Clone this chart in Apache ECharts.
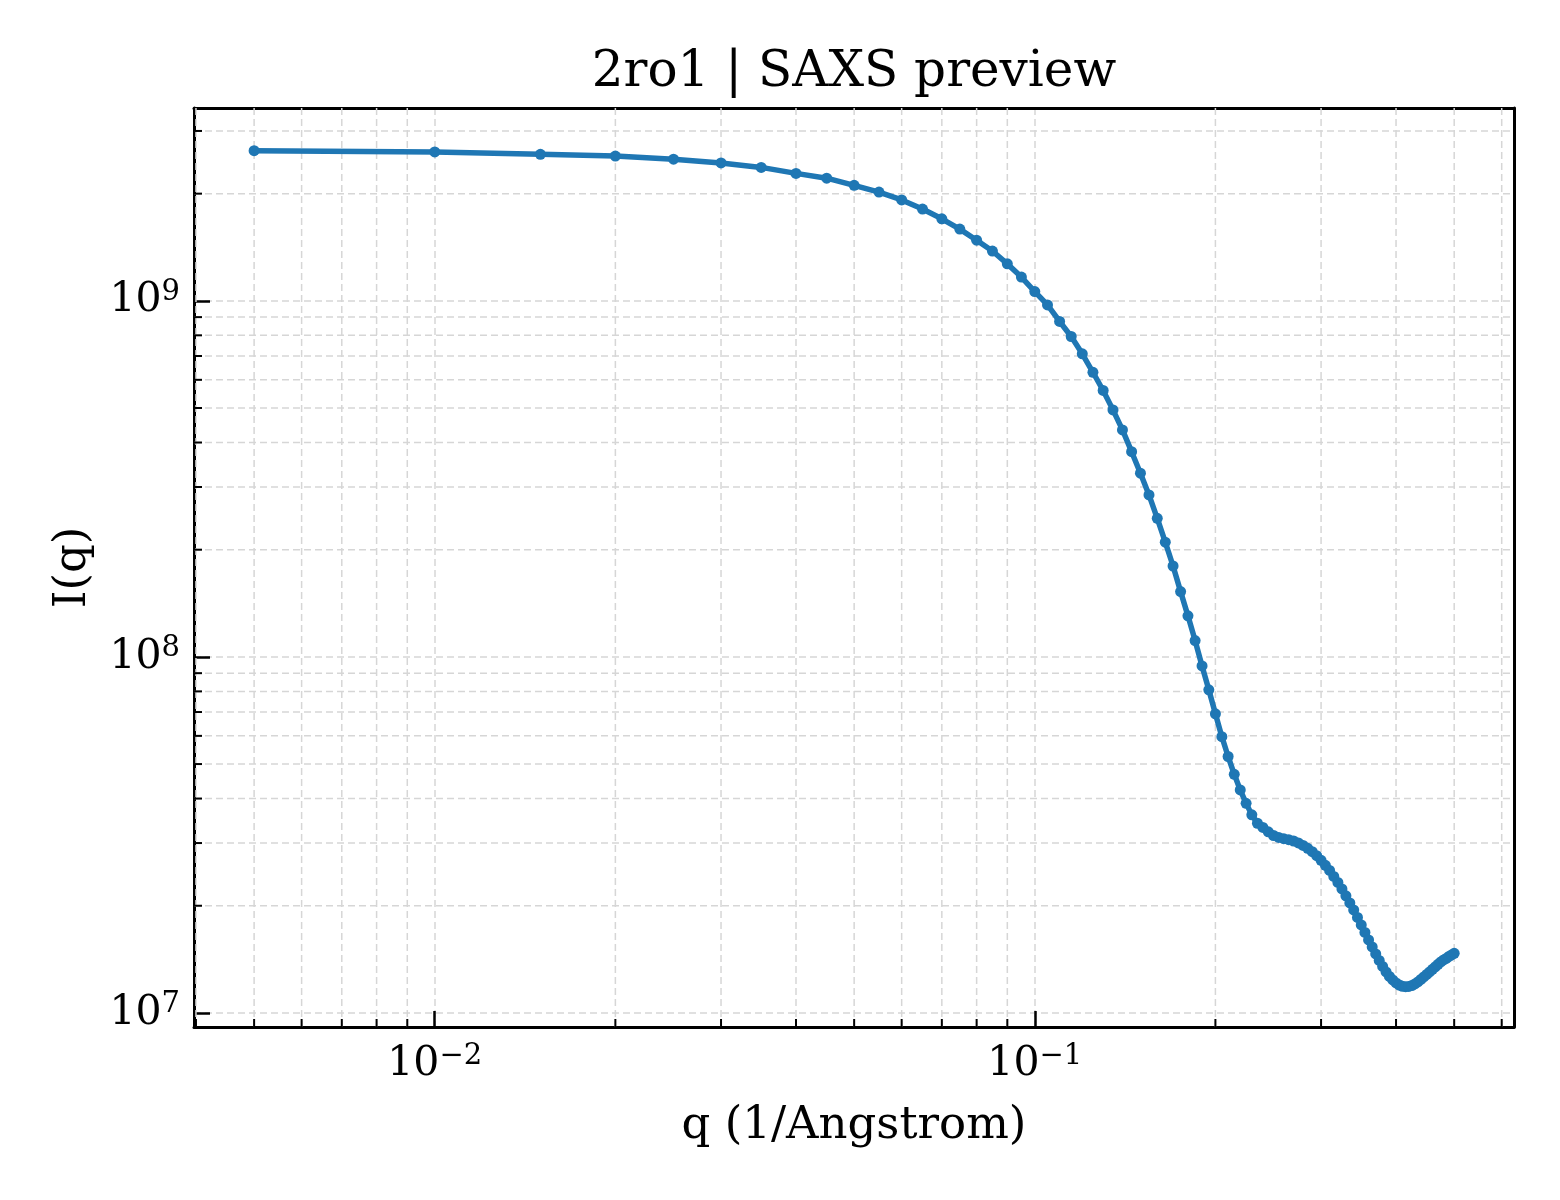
<!DOCTYPE html>
<html>
<head>
<meta charset="utf-8">
<title>2ro1 SAXS preview</title>
<script src="https://cdn.jsdelivr.net/npm/echarts@6/dist/echarts.min.js"></script>
<style>
    html, body { margin: 0; padding: 0; background: #fff; }
    #main { width: 1560px; height: 1200px; }
</style>
</head>
<body>
<div id="main"></div>
<script>
// q values (1/Angstrom)
var qValues = [
    0.005, 0.010, 0.015, 0.020, 0.025, 0.030, 0.035, 0.040, 0.045, 0.050,
    0.055, 0.060, 0.065, 0.070, 0.075, 0.080, 0.085, 0.090, 0.095, 0.100,
    0.105, 0.110, 0.115, 0.120, 0.125, 0.130, 0.135, 0.140, 0.145, 0.150,
    0.155, 0.160, 0.165, 0.170, 0.175, 0.180, 0.185, 0.190, 0.195, 0.200,
    0.205, 0.210, 0.215, 0.220, 0.225, 0.230, 0.235, 0.240, 0.245, 0.250,
    0.255, 0.260, 0.265, 0.270, 0.275, 0.280, 0.285, 0.290, 0.295, 0.300,
    0.305, 0.310, 0.315, 0.320, 0.325, 0.330, 0.335, 0.340, 0.345, 0.350,
    0.355, 0.360, 0.365, 0.370, 0.375, 0.380, 0.385, 0.390, 0.395, 0.400,
    0.405, 0.410, 0.415, 0.420, 0.425, 0.430, 0.435, 0.440, 0.445, 0.450,
    0.455, 0.460, 0.465, 0.470, 0.475, 0.480, 0.485, 0.490, 0.495, 0.500
];
// I(q)
var intensity = [
    2.64e9, 2.62e9, 2.58e9, 2.55e9, 2.50e9, 2.44e9, 2.37e9, 2.28e9, 2.21e9, 2.11e9,
    2.02e9, 1.92e9, 1.81e9, 1.70e9, 1.59e9, 1.48e9, 1.38e9, 1.27e9, 1.166e9, 1.062e9,
    9.74e8, 8.75e8, 7.94e8, 7.10e8, 6.30e8, 5.60e8, 4.94e8, 4.34e8, 3.77e8, 3.28e8,
    2.85e8, 2.45e8, 2.10e8, 1.80e8, 1.525e8, 1.304e8, 1.111e8, 9.43e7, 8.08e7, 6.92e7,
    5.97e7, 5.25e7, 4.68e7, 4.23e7, 3.88e7, 3.60e7, 3.41e7, 3.32e7, 3.225e7, 3.15e7,
    3.11e7, 3.086e7, 3.066e7, 3.04e7, 3.003e7, 2.955e7, 2.90e7, 2.837e7, 2.764e7, 2.682e7,
    2.597e7, 2.514e7, 2.417e7, 2.326e7, 2.23e7, 2.132e7, 2.037e7, 1.947e7, 1.855e7, 1.767e7,
    1.683e7, 1.603e7, 1.532e7, 1.465e7, 1.404e7, 1.351e7, 1.304e7, 1.266e7, 1.238e7, 1.214e7,
    1.198e7, 1.188e7, 1.185e7, 1.187e7, 1.194e7, 1.206e7, 1.222e7, 1.242e7, 1.262e7, 1.283e7,
    1.304e7, 1.326e7, 1.347e7, 1.369e7, 1.391e7, 1.409e7, 1.423e7, 1.441e7, 1.455e7, 1.470e7
];
// axis ranges and minor ticks
var xRange = [0.00397, 0.629];
var yRange = [9.13e6, 3.48e9];
var xMinorTicks = [0.004, 0.005, 0.006, 0.007, 0.008, 0.009,
    0.02, 0.03, 0.04, 0.05, 0.06, 0.07, 0.08, 0.09,
    0.2, 0.3, 0.4, 0.5, 0.6];
var yMinorTicks = [2e7, 3e7, 4e7, 5e7, 6e7, 7e7, 8e7, 9e7,
    2e8, 3e8, 4e8, 5e8, 6e8, 7e8, 8e8, 9e8,
    2e9, 3e9];

var FONT = '"DejaVu Serif", serif';
var gridColor = '#d6d6d6';
var spine = { show: true, lineStyle: { color: '#000', width: 3 } };
var majorGrid = {
    show: true, showMinLine: false, showMaxLine: false,
    lineStyle: { color: gridColor, width: 1.5, type: [7, 4] }
};

function powLabel(v) {
    var e = Math.round(Math.log(v) / Math.LN10);
    return '{b|10}{s|' + (e < 0 ? '\u2212' + (-e) : e) + '}';
}
var labelRich = {
    b: { fontFamily: FONT, fontSize: 41, lineHeight: 41, color: '#000' },
    s: { fontFamily: FONT, fontSize: 29, lineHeight: 29, color: '#000', padding: [0, 0, 16, 0] }
};

// minor grid line + inward minor tick
function minorX(params, api) {
    var cs = params.coordSys;
    var px = api.coord([api.value(0), yRange[0]])[0];
    var bottom = cs.y + cs.height;
    return {
        type: 'group',
        children: [
            { type: 'line', shape: { x1: px, y1: cs.y, x2: px, y2: bottom },
              style: { stroke: gridColor, lineWidth: 1.5, lineDash: [7, 4] } },
            { type: 'line', shape: { x1: px, y1: bottom, x2: px, y2: bottom - 8 },
              style: { stroke: '#000', lineWidth: 2 } }
        ]
    };
}
function minorY(params, api) {
    var cs = params.coordSys;
    var py = api.coord([xRange[0], api.value(1)])[1];
    return {
        type: 'group',
        children: [
            { type: 'line', shape: { x1: cs.x, y1: py, x2: cs.x + cs.width, y2: py },
              style: { stroke: gridColor, lineWidth: 1.5, lineDash: [7, 4] } },
            { type: 'line', shape: { x1: cs.x, y1: py, x2: cs.x + 8, y2: py },
              style: { stroke: '#000', lineWidth: 2 } }
        ]
    };
}

var chart = echarts.init(document.getElementById('main'), null, { renderer: 'canvas' });
chart.setOption({
    animation: false,
    backgroundColor: '#fff',
    title: {
        text: '2ro1 | SAXS preview',
        left: 849,
        top: 43,
        textAlign: 'center',
        textStyle: { fontFamily: FONT, fontSize: 50, fontWeight: 'normal', color: '#000' }
    },
    grid: {
        left: 194, right: 46, top: 108, bottom: 173, show: false
    },
    xAxis: [{
        type: 'log',
        logBase: 10,
        min: xRange[0],
        max: xRange[1],
        name: 'q (1/Angstrom)',
        nameLocation: 'middle',
        nameGap: 77,
        nameTextStyle: { fontFamily: FONT, fontSize: 45, color: '#000' },
        axisLine: spine,
        axisTick: { show: true, inside: true, length: 16, lineStyle: { color: '#000', width: 2.5 } },
        axisLabel: {
            margin: 17, showMinLabel: false, showMaxLabel: false,
            formatter: powLabel, rich: labelRich
        },
        splitLine: majorGrid
    }, {
        type: 'log',
        logBase: 10,
        position: 'top',
        min: xRange[0],
        max: xRange[1],
        axisLine: spine,
        axisTick: { show: false },
        axisLabel: { show: false },
        splitLine: { show: false }
    }],
    yAxis: [{
        type: 'log',
        logBase: 10,
        min: yRange[0],
        max: yRange[1],
        name: 'I(q)',
        nameLocation: 'middle',
        nameGap: 98,
        nameTextStyle: { fontFamily: FONT, fontSize: 45, color: '#000' },
        axisLine: spine,
        axisTick: { show: true, inside: true, length: 16, lineStyle: { color: '#000', width: 2.5 } },
        axisLabel: {
            margin: 14, showMinLabel: false, showMaxLabel: false,
            formatter: powLabel, rich: labelRich
        },
        splitLine: majorGrid
    }, {
        type: 'log',
        logBase: 10,
        position: 'right',
        min: yRange[0],
        max: yRange[1],
        axisLine: spine,
        axisTick: { show: false },
        axisLabel: { show: false },
        splitLine: { show: false }
    }],
    series: [
        {
            type: 'custom',
            z: 1,
            silent: true,
            renderItem: minorX,
            data: xMinorTicks.map(function (v) { return [v, yRange[0]]; })
        },
        {
            type: 'custom',
            z: 1,
            silent: true,
            renderItem: minorY,
            data: yMinorTicks.map(function (v) { return [xRange[0], v]; })
        },
        {
            name: 'I(q)',
            type: 'line',
            z: 3,
            data: qValues.map(function (q, i) { return [q, intensity[i]]; }),
            showSymbol: true,
            showAllSymbol: true,
            symbol: 'circle',
            symbolSize: 11,
            itemStyle: { color: '#1f77b4' },
            lineStyle: { color: '#1f77b4', width: 5.5 }
        }
    ]
});
</script>
</body>
</html>
